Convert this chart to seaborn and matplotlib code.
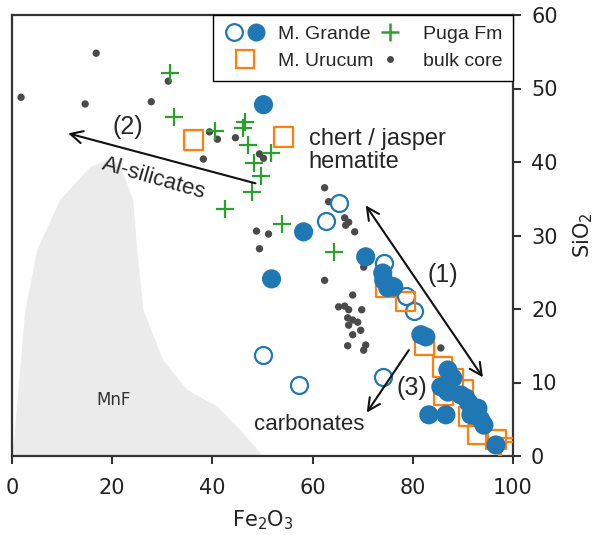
import matplotlib
matplotlib.use("Agg")
import matplotlib.pyplot as plt
import seaborn as sns
import numpy as np
import pandas as pd
from matplotlib.lines import Line2D
from matplotlib.legend_handler import HandlerTuple

sns.set_style("white")
plt.rcParams['font.family'] = ['DejaVu Sans']

# ---- data (Fe2O3, SiO2 in wt%) ----
bulk_fe = [16.8, 1.8, 14.6, 27.8, 31.2, 39.4, 41.0, 44.6, 38.2, 49.4, 50.2, 48.8, 51.2, 49.4,
           62.4, 63.2, 66.4, 67.2, 66.6, 68.4, 62.4, 68.0, 65.2, 66.4, 67.2, 69.8, 67.0, 68.0,
           69.0, 67.2, 69.6, 68.0, 67.0, 70.6, 70.2, 70.2, 85.6]
bulk_si = [54.8, 48.8, 47.9, 48.2, 51.0, 44.1, 43.1, 43.3, 40.4, 41.1, 40.5, 30.6, 30.2, 28.2,
           36.5, 34.6, 32.4, 31.8, 31.4, 30.5, 23.9, 21.9, 20.3, 20.4, 19.9, 19.9, 18.8, 18.5,
           18.2, 17.8, 17.1, 16.5, 15.0, 15.1, 14.4, 25.7, 14.7]

puga_fe = [31.6, 32.4, 40.6, 46.6, 46.2, 47.2, 51.6, 48.4, 49.8, 48.0, 42.6, 53.8, 64.2]
puga_si = [52.1, 46.1, 44.2, 45.4, 44.6, 42.3, 41.2, 39.9, 38.1, 35.9, 33.6, 31.6, 27.8]

urucum_fe = [36.2, 54.2, 74.6, 78.6, 82.4, 86.0, 88.2, 86.2, 90.2, 91.2, 93.0, 96.6, 99.2, 99.6]
urucum_si = [43.0, 43.4, 22.9, 21.0, 15.1, 12.1, 10.5, 8.3, 9.0, 5.4, 2.9, 2.2, 1.2, 0.6]

grande_open_fe = [65.2, 62.6, 74.2, 78.6, 80.2, 74.0, 57.2, 50.0]
grande_open_si = [34.4, 32.0, 26.3, 21.8, 19.7, 10.7, 9.7, 13.7]

grande_fill_fe = [50.2, 58.2, 51.8, 70.6, 74.0, 74.2, 75.0, 76.2, 81.6, 82.6, 87.0, 88.0, 85.6,
                  87.0, 89.6, 90.6, 91.2, 93.0, 91.6, 93.6, 94.2, 83.2, 86.6, 96.6]
grande_fill_si = [47.8, 30.5, 24.1, 27.1, 24.9, 23.9, 22.9, 23.0, 16.5, 16.2, 11.7, 10.6, 9.4,
                  8.7, 8.3, 7.9, 7.2, 6.5, 5.6, 4.9, 4.2, 5.6, 5.6, 1.5]

mnf_fe = [0.0, 0.6, 2.6, 5.0, 9.6, 15.6, 19.0, 21.6, 24.2, 25.0, 26.2, 30.2, 35.0, 41.0, 45.6, 49.6, 50.0]
mnf_si = [0.0, 3.5, 19.5, 28.0, 34.8, 39.3, 40.3, 39.6, 34.8, 28.0, 19.9, 13.0, 9.0, 6.7, 3.5, 0.4, 0.0]

blue = '#1f77b4'
orange = '#ff7f0e'
green = '#2ca02c'
dark = '#4a4a4a'

fig = plt.figure(figsize=(5.95, 5.35), dpi=100)
ax = fig.add_axes([12/595, 79/535, 501/595, 441/535])

ax.fill(mnf_fe, mnf_si, color='#ebebeb', lw=0, zorder=0)

sns.scatterplot(x=bulk_fe, y=bulk_si, ax=ax, color=dark, s=28, edgecolor='none', zorder=2)
sns.scatterplot(x=puga_fe, y=puga_si, ax=ax, color=green, marker='+', s=150, linewidth=1.6, zorder=3)
sns.scatterplot(x=grande_open_fe, y=grande_open_si, ax=ax, marker='o', s=150,
                facecolor='white', edgecolor=blue, linewidth=1.6, zorder=4)
sns.scatterplot(x=urucum_fe, y=urucum_si, ax=ax, marker='s', s=190,
                facecolor='none', edgecolor=orange, linewidth=1.6, zorder=5)
sns.scatterplot(x=grande_fill_fe, y=grande_fill_si, ax=ax, marker='o', s=190,
                color=blue, edgecolor='none', zorder=6)

ax.set_xlim(0, 100)
ax.set_ylim(0, 60)
ax.set_xticks([0, 20, 40, 60, 80, 100])
ax.set_yticks([0, 10, 20, 30, 40, 50, 60])
ax.yaxis.tick_right()
ax.yaxis.set_label_position('right')
ax.tick_params(axis='both', labelsize=15, length=6, width=1.5, color='#333333',
               labelcolor='#222222', direction='out')
ax.tick_params(axis='x', bottom=True, top=False, pad=10)
ax.tick_params(axis='y', right=True, left=False, pad=7)
for sp in ax.spines.values():
    sp.set_visible(True)
    sp.set_color('#333333')
    sp.set_linewidth(1.6)
ax.set_xlabel('Fe$_2$O$_3$', fontsize=15, color='#222222', labelpad=7)
ax.set_ylabel('SiO$_2$', fontsize=15, color='#222222', labelpad=10)

# arrows
akw = dict(arrowstyle='->', lw=1.5, color='#111111', mutation_scale=22, shrinkA=0, shrinkB=0)
ax.annotate('', xy=(94.0, 10.7), xytext=(70.6, 34.1), arrowprops=dict(akw, arrowstyle='<->'), zorder=7)
ax.annotate('', xy=(11.2, 43.9), xytext=(48.6, 37.1), arrowprops=akw, zorder=7)
ax.annotate('', xy=(70.8, 5.9), xytext=(79.2, 14.4), arrowprops=akw, zorder=7)

tf = ['Liberation Sans', 'DejaVu Sans']
ax.text(23.2, 44.8, '(2)', fontsize=18, family=tf, ha='center', va='center', zorder=8)
ax.text(28.4, 37.8, 'Al-silicates', fontsize=16, family=tf, ha='center', va='center',
        rotation=-16, zorder=8)
ax.text(59.2, 41.6, 'chert / jasper\nhematite', fontsize=17, family=tf, ha='left', va='center',
        linespacing=1.05, zorder=8)
ax.text(86.0, 24.6, '(1)', fontsize=18, family=tf, ha='center', va='center', zorder=8)
ax.text(79.8, 9.2, '(3)', fontsize=18, family=tf, ha='center', va='center', zorder=8)
ax.text(59.4, 4.3, 'carbonates', fontsize=16, family=tf, ha='center', va='center', zorder=8,
        bbox=dict(facecolor='white', edgecolor='none', pad=0.5))
ax.text(20.2, 7.6, 'MnF', fontsize=12, color='#333333', ha='center', va='center', zorder=1)

# legend
h_open = Line2D([], [], ls='none', marker='o', ms=12, mfc='white', mec=blue, mew=1.6)
h_fill = Line2D([], [], ls='none', marker='o', ms=13, mfc=blue, mec='none')
h_sq = Line2D([], [], ls='none', marker='s', ms=13, mfc='none', mec=orange, mew=1.6)
h_plus = Line2D([], [], ls='none', marker='+', ms=13, mec=green, mew=1.8)
h_dot = Line2D([], [], ls='none', marker='o', ms=5, mfc=dark, mec='none')
leg = ax.legend([(h_open, h_fill), h_sq, h_plus, h_dot],
                ['M. Grande', 'M. Urucum', 'Puga Fm', 'bulk core'],
                handler_map={tuple: HandlerTuple(ndivide=None, pad=0.1)},
                ncol=2, loc='upper left', bbox_to_anchor=(201/501, 0, 300/501, 1.0),
                mode='expand', borderaxespad=0, fancybox=False,
                framealpha=1, edgecolor='black', prop={'family': tf, 'size': 14},
                handlelength=2.2, handletextpad=0.6, columnspacing=1.0,
                borderpad=0.55, labelspacing=0.47)
leg.get_frame().set_linewidth(1.0)
leg.set_zorder(10)

fig.savefig('out.png', dpi=100)
